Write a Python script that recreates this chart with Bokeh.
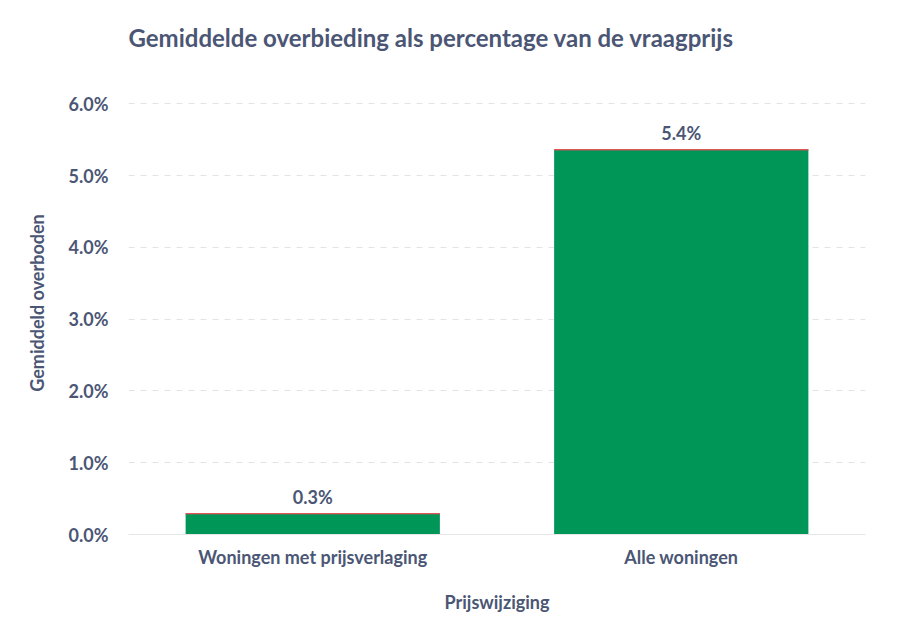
from bokeh.plotting import figure
from bokeh.models import ColumnDataSource, Range1d, FixedTicker, LabelSet, CustomJSTickFormatter
from bokeh.core.properties import value
from bokeh.embed import file_html
from bokeh.resources import INLINE

categories = ["Woningen met prijsverlaging", "Alle woningen"]
values = [0.29, 5.36]
labels = ["0.3%", "5.4%"]

src = ColumnDataSource(dict(x=categories, top=values, lab=labels))
col = "#4b5675"
p = figure(x_range=categories, y_range=Range1d(0, 6.45), width=895, height=615,
           output_backend="svg", toolbar_location=None,
           title="Gemiddelde overbieding als percentage van de vraagprijs",
           min_border_left=128, min_border_right=30, min_border_top=10)
p.title.text_font = "Lato"; p.title.text_font_size = "24px"; p.title.text_color = col
p.title.text_font_style = "bold"; p.title.standoff = 40
p.vbar(x="x", top="top", width=0.69, source=src, fill_color="#009658", line_color=None)
p.vbar(x="x", top="top", bottom="top", width=0.69, source=src, fill_alpha=0, line_color="#e05050", line_width=1)
p.add_layout(LabelSet(x="x", y="top", text="lab", source=src, y_offset=6, text_align="center",
                      text_font=value("Lato"), text_font_size="18px", text_font_style="bold", text_color=col))
p.yaxis.ticker = FixedTicker(ticks=[0, 1, 2, 3, 4, 5, 6])
p.yaxis.formatter = CustomJSTickFormatter(code="return tick.toFixed(1) + '%'")
for ax in (p.xaxis, p.yaxis):
    ax.major_label_text_font = "Lato"; ax.major_label_text_font_size = "18px"
    ax.major_label_text_color = col; ax.major_label_text_font_style = "bold"
    ax.axis_label_text_font = "Lato"; ax.axis_label_text_font_size = "18px"
    ax.axis_label_text_color = col; ax.axis_label_text_font_style = "bold"
    ax.major_tick_line_color = None; ax.minor_tick_line_color = None
p.yaxis.axis_line_color = None
p.xaxis.axis_line_color = "#e6e6e6"
p.xaxis.axis_label = "Prijswijziging"; p.yaxis.axis_label = "Gemiddeld overboden"
p.xaxis.axis_label_standoff = 20
p.yaxis.axis_label_standoff = 18
p.yaxis.major_label_standoff = 14
p.xgrid.grid_line_color = None
p.ygrid.grid_line_color = "#e3e3e3"; p.ygrid.grid_line_dash = "6 6"
p.outline_line_color = None
p.x_range.range_padding = 0.0
open("out.html", "w").write(file_html(p, INLINE))
